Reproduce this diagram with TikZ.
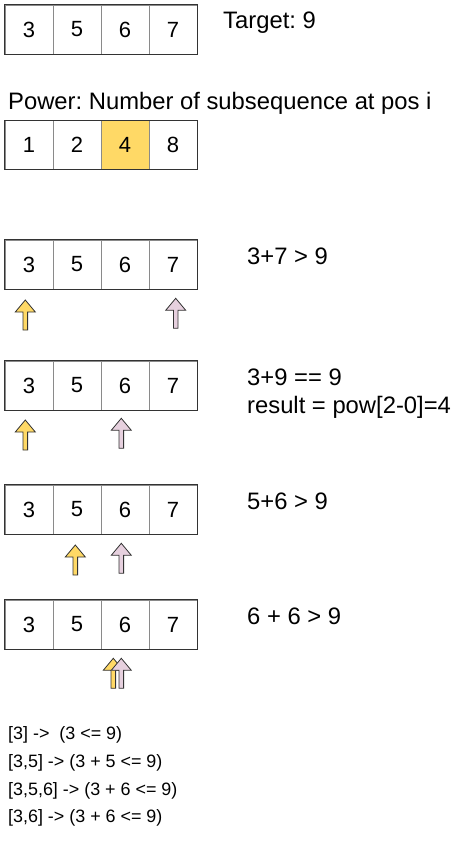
\documentclass[tikz,border=0pt]{standalone}
\usepackage{fontspec}
\setmainfont{Liberation Sans}
\usepackage{tikz}
\usetikzlibrary{positioning}
\frenchspacing
\definecolor{cellline}{HTML}{8A8A8A}
\definecolor{boxline}{HTML}{333333}
\definecolor{hlyellow}{HTML}{FFD966}
\definecolor{hlpink}{HTML}{E6D0DE}
\tikzset{font=\fontsize{23.8}{28}\selectfont}
\tikzset{
  cell/.style={draw=cellline, minimum width=48pt, minimum height=49pt,
    inner sep=0pt, font=\fontsize{22}{26}\selectfont},
  lbl/.style={anchor=base west, inner sep=0pt},
  small/.style={anchor=base west, inner sep=0pt, font=\fontsize{17.9}{21}\selectfont},
  ptr/.style={draw=boxline, line width=0.8pt, line join=miter},
}
% up arrow under a cell: x of shaft, y of tip, fill colour
\newcommand{\ptrarrow}[3]{%
  \draw[ptr, fill=#3] (#1-2.3,#2+30) -- (#1-2.3,#2+12) -- (#1-10,#2+12) -- (#1,#2)
    -- (#1+10,#2+12) -- (#1+2.3,#2+12) -- (#1+2.3,#2+30) -- cycle;}

\begin{document}
\begin{tikzpicture}[x=1pt, y=-1pt]
  \useasboundingbox (0,0) rectangle (471,846);

  % the arrays
  \foreach \r/\top in {a/5, c/240, d/361, e/485, f/600} {
    \foreach \v [count=\i] in {3,5,6,7}
      \node[cell] (\r\i) at (5+48*\i-24, \top+24.5) {\v};
    \draw[boxline, line width=0.9pt] (\r1.north west) rectangle (\r4.south east);
  }
  % powers
  \foreach \v [count=\i] in {1,2,4,8}
    \node[cell] (p\i) at (5+48*\i-24, 145) {\v};
  \node[cell, fill=hlyellow] at (p3) {4};
  \draw[boxline, line width=0.9pt] (p1.north west) rectangle (p4.south east);

  % labels
  \node[lbl] (target) at (223,28.3) {Target: 9};
  \node[lbl] (power) at (8,109) {Power: Number of subsequence at pos i};
  \node[lbl] (stepc) at (247,264.3) {3+7 > 9};
  \node[lbl] (stepd) at (247,385) {3+9 == 9};
  \node[lbl] (result) at (247,413.3) {result = pow[2-0]=4};
  \node[lbl] (stepe) at (247,509.3) {5+6 > 9};
  \node[lbl] (stepf) at (247,624.3) {6 + 6 > 9};

  % pointers
  \ptrarrow{25.3}{300}{hlyellow}
  \ptrarrow{175.7}{298.3}{hlpink}
  \ptrarrow{25.3}{420}{hlyellow}
  \ptrarrow{121.3}{418.3}{hlpink}
  \ptrarrow{75.3}{545}{hlyellow}
  \ptrarrow{121.3}{543.3}{hlpink}
  \ptrarrow{113.3}{658.3}{hlyellow}
  \ptrarrow{121.3}{658.3}{hlpink}

  % subsequences
  \node[small] (sub1) at (8,739.3) {[3] ->\ \ (3 <= 9)};
  \node[small] (sub2) at (8,767) {[3,5] -> (3 + 5 <= 9)};
  \node[small] (sub3) at (8,795) {[3,5,6] -> (3 + 6 <= 9)};
  \node[small] (sub4) at (8,822.7) {[3,6] -> (3 + 6 <= 9)};
\end{tikzpicture}
\end{document}
